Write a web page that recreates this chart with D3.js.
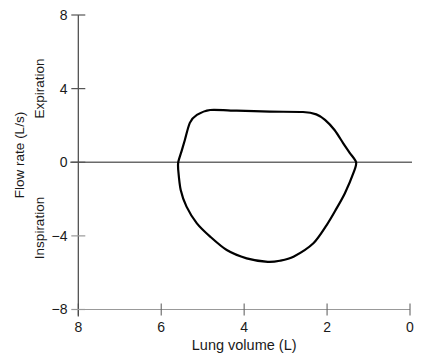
<!DOCTYPE html>
<html>
<head>
<meta charset="utf-8">
<script src="https://d3js.org/d3.v7.min.js"></script>
<style>
    body { margin: 0; background: #fff; font-family: "Liberation Sans", Arial, sans-serif; }
    text { fill: #1a1a1a; }
</style>
</head>
<body>
<script>
    // flow-volume loop
    var volume = [5.59, 5.50, 5.43, 5.31, 5.14, 4.82, 4.18, 3.38, 2.58, 2.26, 2.05, 1.82, 1.61, 1.45, 1.30,
                  1.35, 1.57, 1.80, 2.01, 2.33, 2.81, 3.14, 3.43, 3.94, 4.42, 4.82, 5.14, 5.39, 5.53, 5.59];
    var flow   = [0.00, 0.67, 1.21, 2.14, 2.57, 2.84, 2.80, 2.75, 2.73, 2.60, 2.30, 1.75, 1.03, 0.50, 0.00,
                  -0.50, -1.68, -2.62, -3.41, -4.40, -5.13, -5.35, -5.41, -5.22, -4.77, -4.04, -3.32, -2.41, -1.51, -0.42];
    var xTicks = [8, 6, 4, 2, 0];
    var yTicks = [8, 4, 0, -4, -8];

    var width = 424, height = 360;
    var pLeft = 78.3, pRight = 410, pTop = 15, pBottom = 309.5;

    var svg = d3.select("body").append("svg")
        .attr("width", width)
        .attr("height", height);

    var x = d3.scaleLinear().domain([8, 0]).range([pLeft, pRight]);
    var y = d3.scaleLinear().domain([-8, 8]).range([pBottom, pTop]);

    // x axis
    svg.append("line")
        .attr("x1", pLeft).attr("x2", pRight)
        .attr("y1", y(-8)).attr("y2", y(-8))
        .style("stroke", "#999").style("stroke-width", 1.2);

    svg.append("g").selectAll("line")
        .data(xTicks)
        .enter().append("line")
        .attr("x1", function (d) { return x(d); })
        .attr("x2", function (d) { return x(d); })
        .attr("y1", y(-8) - 6).attr("y2", y(-8) + 6)
        .style("stroke", "#666").style("stroke-width", 1.1);

    svg.append("g").selectAll("text")
        .data(xTicks)
        .enter().append("text")
        .attr("x", function (d) { return x(d); })
        .attr("y", 332)
        .attr("text-anchor", "middle")
        .style("font-size", "14px")
        .text(function (d) { return d; });

    // zero line
    svg.append("line")
        .attr("x1", pLeft - 8).attr("x2", 412)
        .attr("y1", y(0)).attr("y2", y(0))
        .style("stroke", "#6a6a6a").style("stroke-width", 1.5);

    // y axis
    svg.append("line")
        .attr("x1", pLeft).attr("x2", pLeft)
        .attr("y1", pTop).attr("y2", pBottom + 7)
        .style("stroke", "#444").style("stroke-width", 1.2);

    svg.append("g").selectAll("line")
        .data(yTicks)
        .enter().append("line")
        .attr("x1", pLeft - 7).attr("x2", pLeft + 7)
        .attr("y1", function (d) { return y(d); })
        .attr("y2", function (d) { return y(d); })
        .style("stroke", function (d) { return d < 0 ? "#999" : "#555"; })
        .style("stroke-width", 1.2);

    svg.append("g").selectAll("text")
        .data(yTicks)
        .enter().append("text")
        .attr("x", 67.5)
        .attr("y", function (d) { return y(d); })
        .attr("dy", "0.35em")
        .attr("text-anchor", "end")
        .style("font-size", "14px")
        .text(function (d) { return d < 0 ? "\u2212" + Math.abs(d) : d; });

    // axis titles
    svg.append("text")
        .attr("x", (pLeft + pRight) / 2)
        .attr("y", 350)
        .attr("text-anchor", "middle")
        .style("font-size", "14.5px")
        .text("Lung volume (L)");

    svg.append("text")
        .attr("transform", "translate(23.5,155) rotate(-90)")
        .attr("text-anchor", "middle")
        .style("font-size", "13.5px")
        .text("Flow rate (L/s)");

    svg.append("text")
        .attr("transform", "translate(43.5,88.5) rotate(-90)")
        .attr("text-anchor", "middle")
        .style("font-size", "13.5px")
        .text("Expiration");

    svg.append("text")
        .attr("transform", "translate(43.5,228) rotate(-90)")
        .attr("text-anchor", "middle")
        .style("font-size", "13.5px")
        .text("Inspiration");

    // the loop
    var pts = volume.map(function (v, i) { return [v, flow[i]]; });

    var line = d3.line()
        .x(function (d) { return x(d[0]); })
        .y(function (d) { return y(d[1]); })
        .curve(d3.curveCardinalClosed.tension(0.2));

    svg.append("path")
        .datum(pts)
        .attr("d", line)
        .style("fill", "none")
        .style("stroke", "#000")
        .style("stroke-width", 2.2);
</script>
</body>
</html>
